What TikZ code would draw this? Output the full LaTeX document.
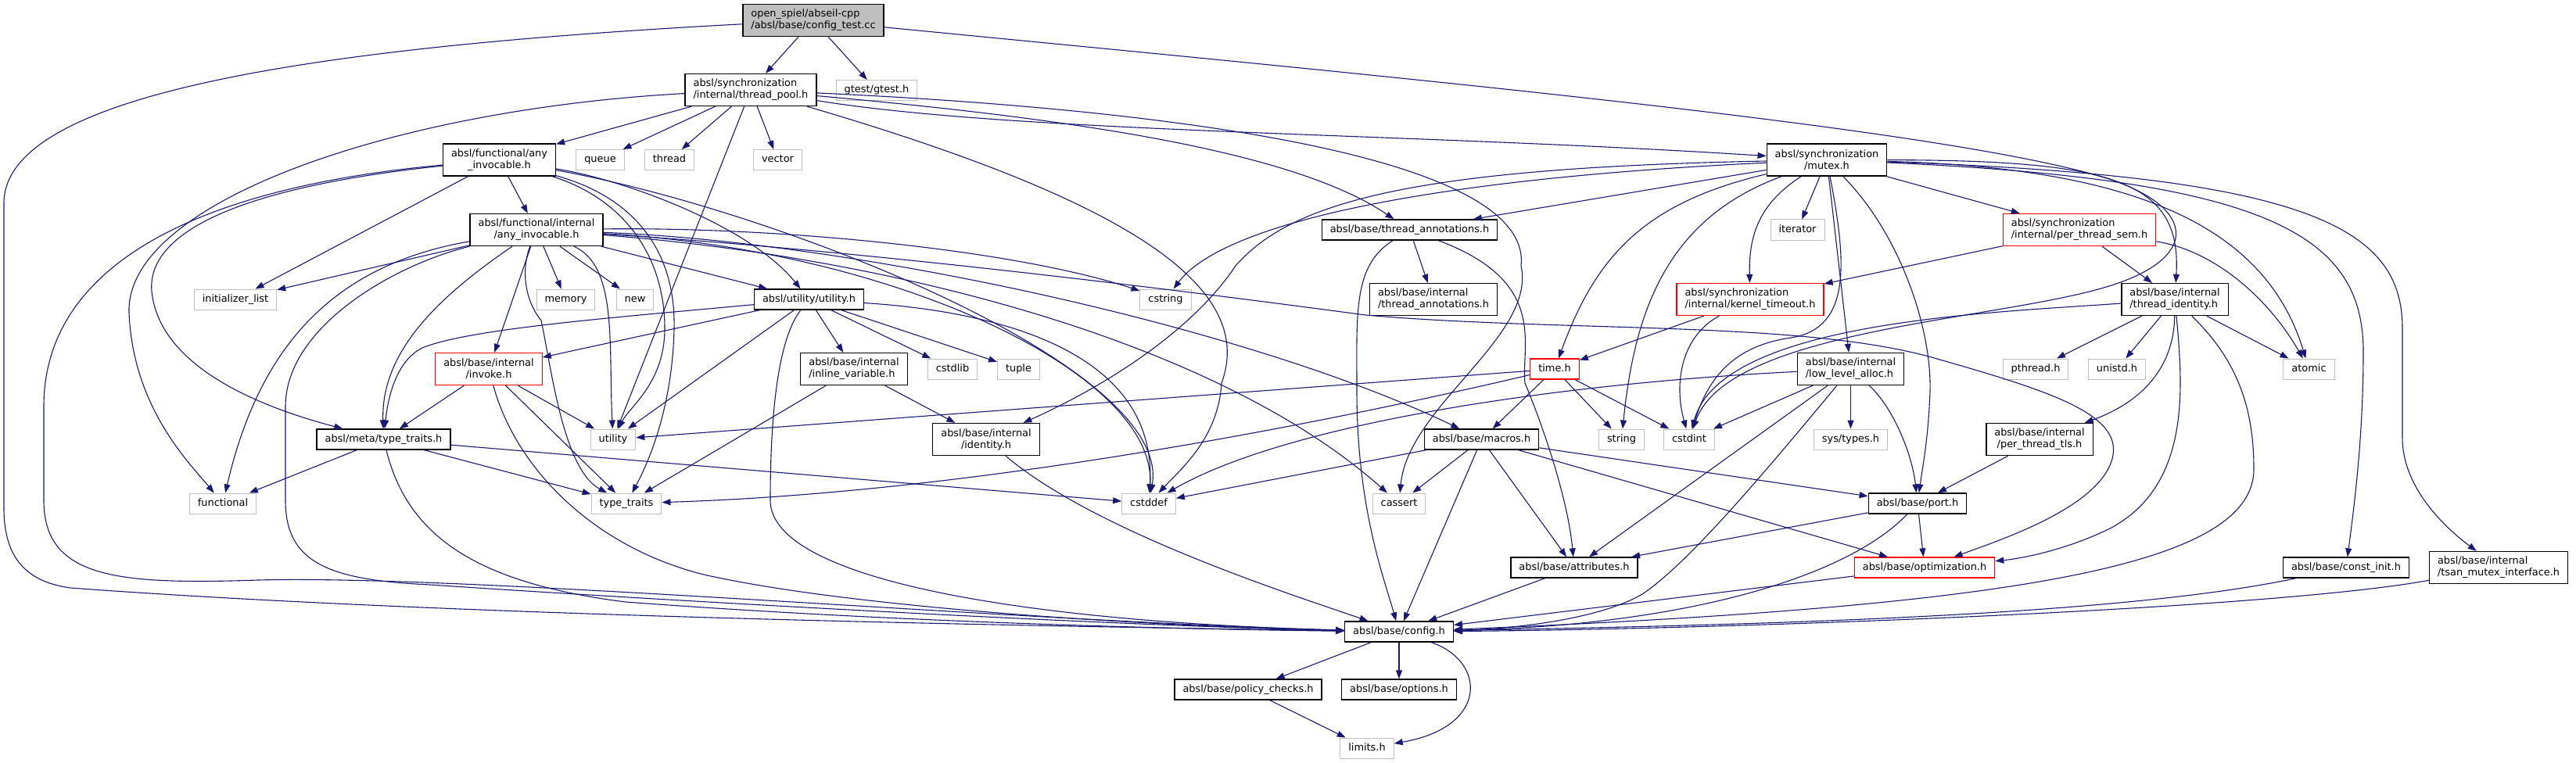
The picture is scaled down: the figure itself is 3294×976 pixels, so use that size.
\documentclass[tikz,border=0pt]{standalone}
\usepackage{fontspec}
\setmainfont{DejaVu Sans}
\usepackage{tikz}
\usetikzlibrary{arrows.meta}
\definecolor{edgeblue}{RGB}{25, 25, 112}
\definecolor{sysgray}{RGB}{191, 191, 191}
\definecolor{maingray}{RGB}{191, 191, 191}

\begin{document}
\begin{tikzpicture}[x=1pt, y=-1pt,
    hfile/.style={draw=black, line width=1.3pt, fill=white, align=center,
                  inner xsep=10.5pt, inner ysep=2pt, minimum height=26pt,
                  font=\fontsize{12.9pt}{15pt}\selectfont},
    oneline/.style={text height=9.6pt, text depth=2.8pt},
    twoline/.style={minimum height=41pt},
    sysfile/.style={hfile, oneline, draw=sysgray, line width=1pt},
    cutfile/.style={hfile, draw=red},
    mainfile/.style={hfile, fill=maingray},
    incl/.style={draw=edgeblue, line width=1.1pt, -{Triangle[length=11pt, width=8pt]}}
]
    \fill[white] (0,0) rectangle (3294,976);
    \useasboundingbox (0,0) rectangle (3294,976);

    % Rank 0 - 2
    \node[mainfile, twoline, align=left] (ct) at (1040,26) {open\_spiel/abseil-cpp\\/absl/base/config\_test.cc};
    \node[hfile, twoline, align=left] (tpool) at (960,115) {absl/synchronization\\/internal/thread\_pool.h};
    \node[sysfile] (gtest) at (1121,115.5) {gtest/gtest.h};
    \node[hfile, twoline] (anyinv) at (638.5,204.5) {absl/functional/any\\\_invocable.h};
    \node[sysfile] (queue) at (767.5,204.5) {queue};
    \node[sysfile] (thread) at (856,204.5) {thread};
    \node[sysfile] (vector) at (994.5,204.5) {vector};
    \node[hfile, twoline] (mutex) at (2336,204.5) {absl/synchronization\\/mutex.h};

    % Rank 3 - 4
    \node[hfile, twoline] (ianyinv) at (686,294) {absl/functional/internal\\/any\_invocable.h};
    \node[hfile, oneline] (thann) at (1802.5,294) {absl/base/thread\_annotations.h};
    \node[sysfile] (iterator) at (2298.5,294) {iterator};
    \node[cutfile, twoline, align=left] (ptsem) at (2659,294) {absl/synchronization\\/internal/per\_thread\_sem.h};
    \node[sysfile] (initlist) at (301,383) {initializer\_list};
    \node[sysfile] (memory) at (723.5,383) {memory};
    \node[sysfile] (new) at (812,383) {new};
    \node[hfile, oneline] (utilh) at (1034.5,383) {absl/utility/utility.h};
    \node[sysfile] (cstring) at (1490.5,383) {cstring};
    \node[hfile, twoline, align=left] (ithann) at (1833,383) {absl/base/internal\\/thread\_annotations.h};
    \node[cutfile, twoline, align=left] (ktime) at (2238,383) {absl/synchronization\\/internal/kernel\_timeout.h};
    \node[hfile, twoline, align=left] (tident) at (2781,383) {absl/base/internal\\/thread\_identity.h};

    % Rank 5 - 6
    \node[cutfile, twoline] (invoke) at (625,472) {absl/base/internal\\/invoke.h};
    \node[hfile, twoline, align=left] (inlvar) at (1092,472) {absl/base/internal\\/inline\_variable.h};
    \node[sysfile] (cstdlib) at (1218,472) {cstdlib};
    \node[sysfile] (tuple) at (1302.5,472) {tuple};
    \node[cutfile, oneline] (timeh) at (1988,472) {time.h};
    \node[hfile, twoline, align=left] (llalloc) at (2366.5,472) {absl/base/internal\\/low\_level\_alloc.h};
    \node[sysfile] (pthread) at (2603,472) {pthread.h};
    \node[sysfile] (unistd) at (2707,472) {unistd.h};
    \node[sysfile] (atomic) at (2952.5,472) {atomic};
    \node[hfile, oneline] (mtraits) at (490.5,562) {absl/meta/type\_traits.h};
    \node[sysfile] (utility) at (784,562) {utility};
    \node[hfile, twoline] (identity) at (1261,562) {absl/base/internal\\/identity.h};
    \node[hfile, oneline] (macros) at (1894.5,562) {absl/base/macros.h};
    \node[sysfile] (string) at (2073.5,562) {string};
    \node[sysfile] (cstdint) at (2160,562) {cstdint};
    \node[sysfile] (systypes) at (2366.5,562) {sys/types.h};
    \node[hfile, twoline] (pttls) at (2608,562) {absl/base/internal\\/per\_thread\_tls.h};

    % Rank 7 - 11
    \node[sysfile] (functional) at (285,644) {functional};
    \node[sysfile] (typetraits) at (801,644) {type\_traits};
    \node[sysfile] (cstddef) at (1469,644) {cstddef};
    \node[sysfile] (cassert) at (1789,644) {cassert};
    \node[hfile, oneline] (port) at (2452,644) {absl/base/port.h};
    \node[hfile, oneline] (attrib) at (2013,726) {absl/base/attributes.h};
    \node[cutfile, oneline] (optim) at (2461,726) {absl/base/optimization.h};
    \node[hfile, oneline] (constinit) at (3000,726) {absl/base/const\_init.h};
    \node[hfile, twoline, align=left] (tsan) at (3195,726) {absl/base/internal\\/tsan\_mutex\_interface.h};
    \node[hfile, oneline] (config) at (1789,808) {absl/base/config.h};
    \node[hfile, oneline] (policy) at (1596,882) {absl/base/policy\_checks.h};
    \node[hfile, oneline] (options) at (1789,882) {absl/base/options.h};
    \node[sysfile] (limits) at (1748,957) {limits.h};

    % config_test.cc
    \draw[incl] (ct) -- (tpool);
    \draw[incl] (ct) -- (gtest);
    \draw[incl] (ct) .. controls (400,60) and (5,120) .. (5,260) -- (5,650) .. controls (5,720) and (40,745) .. (90,752) .. controls (600,790) and (1400,802) .. (config);
    \draw[incl] (ct) .. controls (1800,100) and (2500,165) .. (2700,230) .. controls (2810,268) and (2810,330) .. (2700,365) .. controls (2560,410) and (2210,420) .. (cstdint);

    % thread_pool.h
    \draw[incl] (tpool) -- (anyinv);
    \draw[incl] (tpool) -- (queue);
    \draw[incl] (tpool) -- (thread);
    \draw[incl] (tpool) -- (vector);
    \draw[incl] (tpool) -- (utility);
    \draw[incl] (tpool) .. controls (500,140) and (160,260) .. (165,400) .. controls (170,520) and (240,590) .. (functional);
    \draw[incl] (tpool) .. controls (1420,250) and (1610,360) .. (1562,490) .. controls (1558,560) and (1510,600) .. (cstddef);
    \draw[incl] (tpool) .. controls (1500,140) and (1960,200) .. (1945,340) .. controls (1965,430) and (1800,520) .. (cassert);
    \draw[incl] (tpool) .. controls (1350,150) and (1650,190) .. (thann);
    \draw[incl] (tpool) .. controls (1300,170) and (1800,170) .. (mutex);

    % functional/any_invocable.h
    \draw[incl] (anyinv) -- (initlist);
    \draw[incl] (anyinv) -- (ianyinv);
    \draw[incl] (anyinv) .. controls (250,240) and (56,340) .. (56,520) -- (56,640) .. controls (56,740) and (150,748) .. (330,742) .. controls (600,735) and (1300,795) .. (config);
    \draw[incl] (anyinv) .. controls (300,240) and (180,300) .. (195,380) .. controls (210,470) and (330,520) .. (mtraits);
    \draw[incl] (anyinv) .. controls (800,255) and (850,330) .. (850,420) .. controls (850,490) and (805,520) .. (utility);
    \draw[incl] (anyinv) .. controls (820,255) and (864,330) .. (862,420) .. controls (860,520) and (830,590) .. (typetraits);
    \draw[incl] (anyinv) .. controls (1000,270) and (1500,470) .. (cstddef);
    \draw[incl] (anyinv) .. controls (800,230) and (960,290) .. (utilh);

    % functional/internal/any_invocable.h
    \draw[incl] (ianyinv) .. controls (1150,330) and (1560,440) .. (cassert);
    \draw[incl] (ianyinv) .. controls (1150,320) and (1480,480) .. (cstddef);
    \draw[incl] (ianyinv) .. controls (1000,290) and (1300,320) .. (cstring);
    \draw[incl] (ianyinv) .. controls (420,340) and (330,450) .. (functional);
    \draw[incl] (ianyinv) -- (initlist);
    \draw[incl] (ianyinv) -- (memory);
    \draw[incl] (ianyinv) -- (new);
    \draw[incl] (ianyinv) .. controls (668,340) and (668,380) .. (692,410) .. controls (705,470) and (720,600) .. (typetraits);
    \draw[incl] (ianyinv) .. controls (790,340) and (778,440) .. (utility);
    \draw[incl] (ianyinv) .. controls (500,340) and (365,420) .. (365,520) -- (365,640) .. controls (365,720) and (420,742) .. (550,748) .. controls (800,765) and (1400,800) .. (config);
    \draw[incl] (ianyinv) -- (invoke);
    \draw[incl] (ianyinv) .. controls (1100,310) and (1600,420) .. (macros);
    \draw[incl] (ianyinv) .. controls (1100,320) and (1500,370) .. (1746,403) .. controls (2000,425) and (2300,410) .. (2470,457) .. controls (2620,500) and (2720,530) .. (2700,590) .. controls (2680,650) and (2560,690) .. (optim);
    \draw[incl] (ianyinv) .. controls (560,380) and (487,450) .. (mtraits);
    \draw[incl] (ianyinv) -- (utilh);

    % utility/utility.h
    \draw[incl] (utilh) -- (cstdlib);
    \draw[incl] (utilh) -- (tuple);
    \draw[incl] (utilh) -- (inlvar);
    \draw[incl] (utilh) -- (invoke);
    \draw[incl] (utilh) .. controls (800,405) and (600,420) .. (540,445) .. controls (510,460) and (497,500) .. (mtraits);
    \draw[incl] (utilh) -- (utility);
    \draw[incl] (utilh) .. controls (1300,400) and (1480,460) .. (cstddef);
    \draw[incl] (utilh) .. controls (990,440) and (985,560) .. (985,640) .. controls (985,740) and (1300,795) .. (config);

    % invoke.h, type_traits.h, inline_variable.h, identity.h
    \draw[incl] (invoke) -- (mtraits);
    \draw[incl] (invoke) -- (typetraits);
    \draw[incl] (invoke) -- (utility);
    \draw[incl] (invoke) .. controls (660,600) and (760,700) .. (900,735) .. controls (1100,780) and (1500,802) .. (config);
    \draw[incl] (mtraits) -- (functional);
    \draw[incl] (mtraits) -- (typetraits);
    \draw[incl] (mtraits) -- (cstddef);
    \draw[incl] (mtraits) .. controls (520,680) and (600,745) .. (800,770) .. controls (1200,800) and (1600,806) .. (config);
    \draw[incl] (inlvar) -- (identity);
    \draw[incl] (inlvar) -- (typetraits);
    \draw[incl] (identity) .. controls (1400,680) and (1650,760) .. (config);

    % thread_annotations.h
    \draw[incl] (thann) -- (ithann);
    \draw[incl] (thann) .. controls (1980,360) and (1945,440) .. (1950,490) .. controls (1975,550) and (2005,640) .. (attrib);
    \draw[incl] (thann) .. controls (1730,340) and (1735,400) .. (1735,500) .. controls (1735,650) and (1770,740) .. (config);

    % mutex.h
    \draw[incl] (mutex) .. controls (2750,215) and (2900,300) .. (atomic);
    \draw[incl] (mutex) .. controls (2360,330) and (2370,420) .. (2290,432) .. controls (2220,442) and (2185,480) .. (cstdint);
    \draw[incl] (mutex) .. controls (1800,230) and (1560,290) .. (cstring);
    \draw[incl] (mutex) -- (iterator);
    \draw[incl] (mutex) .. controls (2130,280) and (2090,400) .. (string);
    \draw[incl] (mutex) .. controls (2900,230) and (3022,300) .. (3022,450) .. controls (3022,560) and (3010,650) .. (constinit);
    \draw[incl] (mutex) .. controls (2950,225) and (3072,290) .. (3072,420) -- (3072,560) .. controls (3072,620) and (3120,670) .. (tsan);
    \draw[incl] (mutex) -- (thann);
    \draw[incl] (mutex) .. controls (1800,215) and (1650,260) .. (1580,340) .. controls (1520,430) and (1400,500) .. (identity);
    \draw[incl] (mutex) -- (llalloc);
    \draw[incl] (mutex) .. controls (2700,205) and (2790,230) .. (tident);
    \draw[incl] (mutex) .. controls (2430,300) and (2470,420) .. (2468,500) .. controls (2466,560) and (2458,600) .. (port);
    \draw[incl] (mutex) .. controls (2250,260) and (2236,300) .. (ktime);
    \draw[incl] (mutex) -- (ptsem);
    \draw[incl] (mutex) .. controls (2100,260) and (2040,330) .. (timeh);

    % per_thread_sem.h, kernel_timeout.h, time.h
    \draw[incl] (ptsem) -- (ktime);
    \draw[incl] (ptsem) -- (tident);
    \draw[incl] (ptsem) .. controls (2830,320) and (2900,380) .. (atomic);
    \draw[incl] (ktime) -- (timeh);
    \draw[incl] (ktime) .. controls (2150,430) and (2140,490) .. (cstdint);
    \draw[incl] (timeh) -- (macros);
    \draw[incl] (timeh) -- (string);
    \draw[incl] (timeh) -- (cstdint);
    \draw[incl] (timeh) -- (utility);
    \draw[incl] (timeh) .. controls (1700,540) and (1250,630) .. (typetraits);

    % low_level_alloc.h
    \draw[incl] (llalloc) .. controls (2000,490) and (1650,540) .. (cstddef);
    \draw[incl] (llalloc) -- (cstdint);
    \draw[incl] (llalloc) -- (attrib);
    \draw[incl] (llalloc) .. controls (2260,600) and (2160,720) .. (2100,760) .. controls (2040,795) and (1920,805) .. (config);
    \draw[incl] (llalloc) -- (systypes);
    \draw[incl] (llalloc) .. controls (2420,520) and (2445,580) .. (port);

    % thread_identity.h
    \draw[incl] (tident) -- (pthread);
    \draw[incl] (tident) -- (unistd);
    \draw[incl] (tident) -- (atomic);
    \draw[incl] (tident) .. controls (2550,400) and (2200,410) .. (cstdint);
    \draw[incl] (tident) .. controls (2780,460) and (2750,510) .. (pttls);
    \draw[incl] (tident) .. controls (2792,500) and (2800,620) .. (2700,675) .. controls (2640,705) and (2580,715) .. (optim);
    \draw[incl] (tident) .. controls (2860,460) and (2882,520) .. (2882,600) .. controls (2882,720) and (2600,775) .. (config);
    \draw[incl] (pttls) -- (port);

    % macros.h, port.h and the rest
    \draw[incl] (macros) -- (cassert);
    \draw[incl] (macros) -- (cstddef);
    \draw[incl] (macros) -- (attrib);
    \draw[incl] (macros) -- (config);
    \draw[incl] (macros) -- (optim);
    \draw[incl] (macros) -- (port);
    \draw[incl] (port) -- (attrib);
    \draw[incl] (port) .. controls (2360,740) and (2150,800) .. (config);
    \draw[incl] (port) -- (optim);
    \draw[incl] (attrib) -- (config);
    \draw[incl] (optim) -- (config);
    \draw[incl] (constinit) .. controls (2700,790) and (2200,800) .. (config);
    \draw[incl] (tsan) .. controls (2900,780) and (2200,805) .. (config);
    \draw[incl] (config) -- (policy);
    \draw[incl] (config) -- (options);
    \draw[incl] (config) .. controls (1900,845) and (1905,930) .. (limits);
    \draw[incl] (policy) -- (limits);
\end{tikzpicture}
\end{document}
